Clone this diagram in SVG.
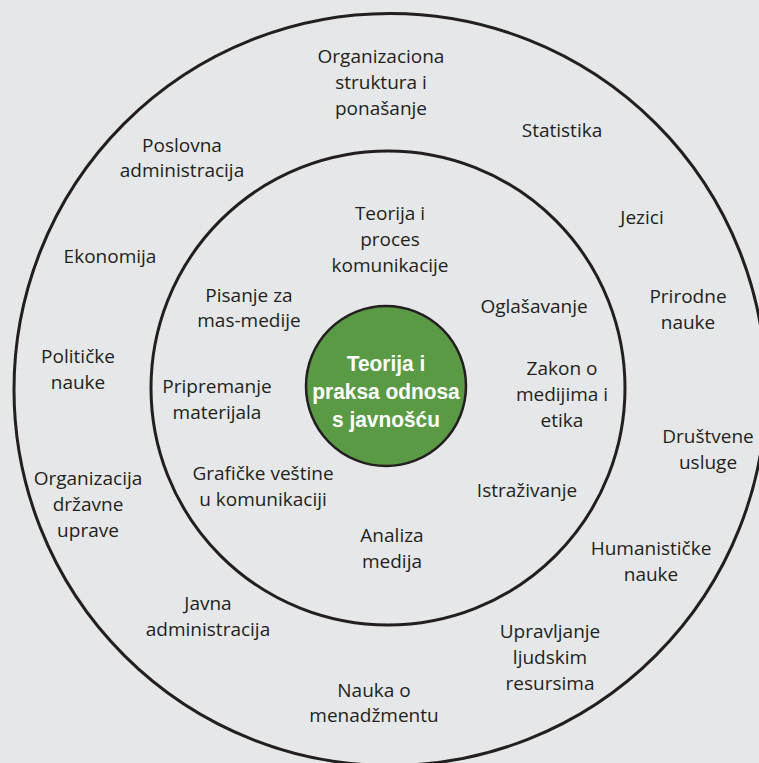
<svg xmlns="http://www.w3.org/2000/svg" width="759" height="763" viewBox="0 0 759 763">
<style>
.ring{fill:none;stroke:#231f20;stroke-width:3}
.t{font-family:"Open Sans","Liberation Sans",sans-serif;font-size:19px;fill:#231f20;text-anchor:middle}
.c{font-family:"Liberation Sans",Arial,sans-serif;font-size:22px;font-weight:bold;fill:#ffffff;text-anchor:middle}
</style>
<rect width="759" height="763" fill="#e6e7e8"/>
<g id="rings">
<circle id="outer-ring" class="ring" cx="390" cy="389.5" r="376"/>
<circle id="inner-ring" class="ring" cx="388" cy="388" r="237"/>
</g>
<g id="connectors"></g>
<g id="center">
<circle cx="386" cy="386" r="80" fill="#5b9a45" stroke="#231f20" stroke-width="2.5"/>
<text class="c" x="386" y="371" transform="translate(386 0) scale(0.95 1) translate(-386 0)">Teorija i</text>
<text class="c" x="386" y="399" transform="translate(386 0) scale(0.95 1) translate(-386 0)">praksa odnosa</text>
<text class="c" x="386" y="427" transform="translate(386 0) scale(0.95 1) translate(-386 0)">s javnošću</text>
</g>
<g id="inner-teorija"><text class="t" x="390" y="220">Teorija i</text><text class="t" x="390" y="246">proces</text><text class="t" x="390" y="272">komunikacije</text></g>
<g id="inner-pisanje"><text class="t" x="249" y="302">Pisanje za</text><text class="t" x="249" y="327">mas-medije</text></g>
<g id="inner-oglasavanje"><text class="t" x="534" y="313">Oglašavanje</text></g>
<g id="inner-zakon"><text class="t" x="562" y="375">Zakon o</text><text class="t" x="562" y="401">medijima i</text><text class="t" x="562" y="427">etika</text></g>
<g id="inner-pripremanje"><text class="t" x="217" y="393">Pripremanje</text><text class="t" x="217" y="419">materijala</text></g>
<g id="inner-graficke"><text class="t" x="263" y="480">Grafičke veštine</text><text class="t" x="263" y="506">u komunikaciji</text></g>
<g id="inner-istrazivanje"><text class="t" x="527" y="497">Istraživanje</text></g>
<g id="inner-analiza"><text class="t" x="392" y="542">Analiza</text><text class="t" x="392" y="568">medija</text></g>
<g id="outer-organizaciona"><text class="t" x="381" y="63">Organizaciona</text><text class="t" x="381" y="89">struktura i</text><text class="t" x="381" y="115">ponašanje</text></g>
<g id="outer-statistika"><text class="t" x="562" y="137">Statistika</text></g>
<g id="outer-poslovna"><text class="t" x="182" y="152">Poslovna</text><text class="t" x="182" y="177">administracija</text></g>
<g id="outer-jezici"><text class="t" x="642" y="224">Jezici</text></g>
<g id="outer-ekonomija"><text class="t" x="110" y="263">Ekonomija</text></g>
<g id="outer-prirodne"><text class="t" x="688" y="303">Prirodne</text><text class="t" x="688" y="329">nauke</text></g>
<g id="outer-politicke"><text class="t" x="78" y="363">Političke</text><text class="t" x="78" y="389">nauke</text></g>
<g id="outer-drustvene"><text class="t" x="708" y="443">Društvene</text><text class="t" x="708" y="469">usluge</text></g>
<g id="outer-organizacija"><text class="t" x="88" y="485">Organizacija</text><text class="t" x="88" y="511">državne</text><text class="t" x="88" y="537">uprave</text></g>
<g id="outer-humanisticke"><text class="t" x="651" y="555">Humanističke</text><text class="t" x="651" y="581">nauke</text></g>
<g id="outer-javna"><text class="t" x="208" y="610">Javna</text><text class="t" x="208" y="636">administracija</text></g>
<g id="outer-upravljanje"><text class="t" x="550" y="638">Upravljanje</text><text class="t" x="550" y="664">ljudskim</text><text class="t" x="550" y="690">resursima</text></g>
<g id="outer-nauka"><text class="t" x="374" y="697">Nauka o</text><text class="t" x="374" y="722">menadžmentu</text></g>
</svg>
